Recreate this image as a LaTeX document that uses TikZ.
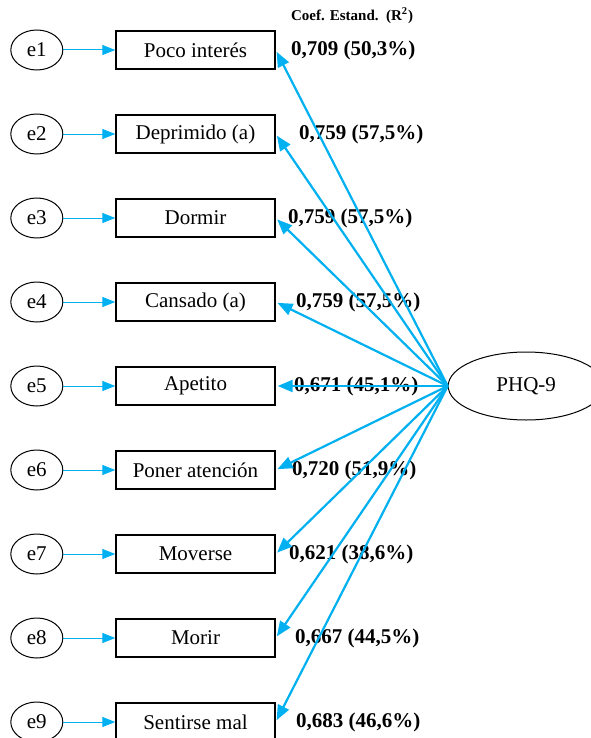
\documentclass[tikz,border=0pt]{standalone}
\usepackage{fontspec}
\setmainfont{Liberation Serif}
\usetikzlibrary{positioning,arrows.meta,shapes.geometric}
\definecolor{cyanline}{RGB}{0,176,240}

\begin{document}
\begin{tikzpicture}[x=0.5pt, y=-0.5pt, >={Triangle[length=6.5pt,width=5pt]},
      font=\fontsize{10.5}{12}\selectfont,
      obs/.style={draw, line width=0.7pt, minimum width=79.5pt, minimum height=19pt, inner sep=0pt},
      err/.style={draw, ellipse, line width=0.5pt, minimum width=26pt, minimum height=20pt, inner sep=0pt},
      lat/.style={draw, ellipse, line width=0.5pt, minimum width=78pt, minimum height=34pt, inner sep=0pt},
      coef/.style={font=\fontsize{10.5}{12}\selectfont\bfseries, inner sep=0pt},
      hdr/.style={font=\fontsize{7.5}{9}\selectfont\bfseries, inner sep=0pt},
      ld/.style={-{Triangle[length=7.5pt,width=6pt]}, cyanline, line width=1.1pt, shorten >=1pt},
      er/.style={->, cyanline, line width=0.5pt}]
      \useasboundingbox (0,0) rectangle (590,738);
      \node[obs] (p1) at (195.5,50) {Poco interés};
      \node[obs, below=22.3pt of p1] (p2) {Deprimido (a)};
      \node[obs, below=22.3pt of p2] (p3) {Dormir};
      \node[obs, below=22.3pt of p3] (p4) {Cansado (a)};
      \node[obs, below=22.3pt of p4] (p5) {Apetito};
      \node[obs, below=22.3pt of p5] (p6) {Poner atención};
      \node[obs, below=22.3pt of p6] (p7) {Moverse};
      \node[obs, below=22.3pt of p7] (p8) {Morir};
      \node[obs, below=22.3pt of p8] (p9) {Sentirse mal};
      \node[err, left=26pt of p1] (e1) {e1};
      \node[err, left=26pt of p2] (e2) {e2};
      \node[err, left=26pt of p3] (e3) {e3};
      \node[err, left=26pt of p4] (e4) {e4};
      \node[err, left=26pt of p5] (e5) {e5};
      \node[err, left=26pt of p6] (e6) {e6};
      \node[err, left=26pt of p7] (e7) {e7};
      \node[err, left=26pt of p8] (e8) {e8};
      \node[err, left=26pt of p9] (e9) {e9};
      \node[lat, right=86pt of p5] (phq) {PHQ-9};
      % coeficientes
      \node[coef, right=7.5pt of p1] (c1) {0,709 (50,3\%)};
      \node[coef, right=11.5pt of p2] (c2) {0,759 (57,5\%)};
      \node[coef, right=6pt of p3] (c3) {0,759 (57,5\%)};
      \node[coef, right=10pt of p4] (c4) {0,759 (57,5\%)};
      \node[coef, right=9pt of p5] (c5) {0,671 (45,1\%)};
      \node[coef, right=8pt of p6] (c6) {0,720 (51,9\%)};
      \node[coef, right=6.5pt of p7] (c7) {0,621 (38,6\%)};
      \node[coef, right=9.5pt of p8] (c8) {0,667 (44,5\%)};
      \node[coef, right=10pt of p9] (c9) {0,683 (46,6\%)};
      \node[hdr, above=8pt of c1.north west, anchor=south west] (h) {Coef. Estand.\ \ (R\textsuperscript{2})};
      \draw[ld] (phq.west)--(p1.east); \draw[ld] (phq.west)--(p2.east); \draw[ld] (phq.west)--(p3.east);
      \draw[ld] (phq.west)--(p4.east); \draw[ld] (phq.west)--(p5.east); \draw[ld] (phq.west)--(p6.east);
      \draw[ld] (phq.west)--(p7.east); \draw[ld] (phq.west)--(p8.east); \draw[ld] (phq.west)--(p9.east);
      \draw[er] (e1)--(p1); \draw[er] (e2)--(p2); \draw[er] (e3)--(p3);
      \draw[er] (e4)--(p4); \draw[er] (e5)--(p5); \draw[er] (e6)--(p6);
      \draw[er] (e7)--(p7); \draw[er] (e8)--(p8); \draw[er] (e9)--(p9);
    \end{tikzpicture}
\end{document}
